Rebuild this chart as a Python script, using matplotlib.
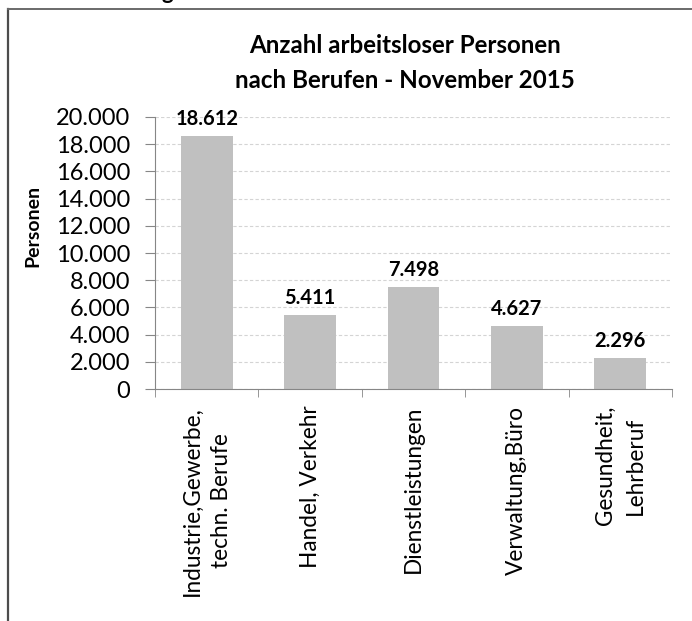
import matplotlib.pyplot as plt
from matplotlib.lines import Line2D
from matplotlib.ticker import FuncFormatter, MultipleLocator
import numpy as np

categories = [
    "Industrie,Gewerbe,\ntechn. Berufe",
    "Handel, Verkehr",
    "Dienstleistungen",
    "Verwaltung,Büro",
    "Gesundheit,\nLehrberuf",
]
values = [18612, 5411, 7498, 4627, 2296]
title = "Anzahl arbeitsloser Personen\nnach Berufen - November 2015"

plt.rcParams["font.family"] = ["Lato", "DejaVu Sans"]

fig = plt.figure(figsize=(6.92, 6.21), dpi=100)
ax = fig.add_axes([155 / 692, 1 - 389 / 621, (672 - 155) / 692, (389 - 117) / 621])

x = np.arange(len(values))
ax.bar(x, values, width=0.5, color="#c0c0c0", zorder=2)


def de_fmt(v, pos=None):
    return f"{int(round(v)):,}".replace(",", ".")


for xi, v in zip(x, values):
    ax.annotate(de_fmt(v), (xi, v), xytext=(0, 5), textcoords="offset points",
                ha="center", va="bottom", fontsize=14.5, fontweight="bold")

ax.set_xlim(-0.5, len(values) - 0.5)
ax.set_ylim(0, 20000)
ax.yaxis.set_major_locator(MultipleLocator(2000))
ax.yaxis.set_major_formatter(FuncFormatter(de_fmt))
ax.grid(axis="y", color="#d4d4d4", linestyle=(0, (3, 2)), linewidth=0.8, zorder=0)

ax.set_xticks(x)
ax.set_xticklabels(categories, rotation=90, fontsize=16.3)
for lbl in ax.get_xticklabels():
    lbl.set_linespacing(1.5)
ax.set_xticks(np.arange(len(values) + 1) - 0.5, minor=True)
ax.tick_params(axis="x", which="major", length=0, pad=12)
ax.tick_params(axis="x", which="minor", length=6, color="#868686", direction="out")
ax.tick_params(axis="y", length=7, color="#868686", labelsize=17, pad=11)

for s in ["top", "right"]:
    ax.spines[s].set_visible(False)
for s in ["left", "bottom"]:
    ax.spines[s].set_color("#868686")

fig.text(33 / 692, 1 - 226 / 621, "Personen", rotation=90, ha="center", va="center",
         fontsize=14, fontweight="bold")
fig.text(405 / 692, 1 - 63 / 621, title, ha="center", va="center",
         fontsize=17.4, fontweight="bold", linespacing=1.65)

# cut-off heading above the chart frame
fig.text(173 / 692, 1 + 1 / 621, "g", ha="right", va="baseline",
         fontsize=16, fontweight="bold")

# chart frame
fig.add_artist(Line2D([7.5 / 692, 7.5 / 692], [0, 1 - 9 / 621], transform=fig.transFigure,
                      color="#4d4d4d", linewidth=1.6))
fig.add_artist(Line2D([7.5 / 692, 1], [1 - 9 / 621, 1 - 9 / 621], transform=fig.transFigure,
                      color="#6a6a6a", linewidth=1.4))

fig.savefig("out.png", dpi=100)
